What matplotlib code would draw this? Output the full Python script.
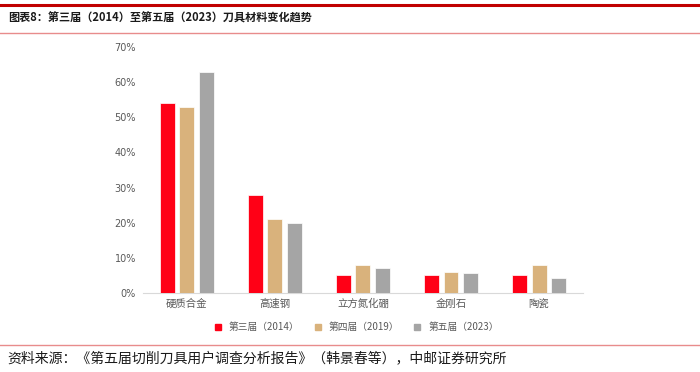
import matplotlib
matplotlib.use("Agg")
import matplotlib.pyplot as plt
import numpy as np
from matplotlib.lines import Line2D

plt.rcParams['font.family'] = ['Noto Sans CJK SC', 'DejaVu Sans']

categories = ['硬质合金', '高速钢', '立方氮化硼', '金刚石', '陶瓷']
series_names = ['第三届（2014）', '第四届（2019）', '第五届（2023）']
s2014 = [54, 28, 5, 5, 5]
s2019 = [53, 21, 8, 6, 8]
s2023 = [63, 20, 7.2, 5.7, 4.2]
colors = ['#FF0016', '#D9B27C', '#A5A5A5']
yticks = [0, 10, 20, 30, 40, 50, 60, 70]

fig = plt.figure(figsize=(7, 3.72), dpi=100)
ax = fig.add_axes([0.204, 0.2124, 0.629, 0.6613])

x = np.arange(len(categories))
w = 0.17
step = 0.225
for i, (vals, c, n) in enumerate(zip([s2014, s2019, s2023], colors, series_names)):
    ax.bar(x + (i - 1) * step, vals, width=w, color=c, label=n, edgecolor='white', linewidth=0.5, zorder=3)

ax.set_xlim(-0.5, len(categories) - 0.5)
ax.set_ylim(0, 70)
ax.set_yticks(yticks)
ax.set_yticklabels([f'{v}%' for v in yticks], fontsize=7, color='#595959', family=['DejaVu Sans'])
ax.set_xticks(x)
ax.set_xticklabels(categories, fontsize=7.5, color='#595959')
for s in ['top', 'right', 'left']:
    ax.spines[s].set_visible(False)
ax.spines['bottom'].set_color('#D9D9D9')
ax.tick_params(axis='both', length=0)
ax.tick_params(axis='y', pad=5)
ax.tick_params(axis='x', pad=4)

handles = [Line2D([0], [0], marker='s', linestyle='none', markersize=4.5, color=c) for c in colors]
fig.legend(handles, series_names, loc='center', bbox_to_anchor=(0.505, 0.12), ncol=3, frameon=False,
           fontsize=7, handletextpad=0.1, columnspacing=0.9, labelcolor='#595959')

# header / footer lines
fig.add_artist(Line2D([0, 1], [1 - 4.5/372, 1 - 4.5/372], color='#C00000', linewidth=2.2))
fig.add_artist(Line2D([0, 1], [1 - 32.5/372, 1 - 32.5/372], color='#E88C8C', linewidth=1.0))
fig.add_artist(Line2D([0, 1], [1 - 345/372, 1 - 345/372], color='#E88C8C', linewidth=1.0))

fig.text(0.011, 1 - 18/372, '图表8：第三届（2014）至第五届（2023）刀具材料变化趋势', fontsize=8, fontweight='bold',
         va='center', ha='left', color='#1A1A1A')
fig.text(0.011, 1 - 358/372, '资料来源：《第五届切削刀具用户调查分析报告》（韩景春等），中邮证券研究所', fontsize=10,
         va='center', ha='left', color='#1A1A1A')

fig.savefig('out.png', dpi=100)
